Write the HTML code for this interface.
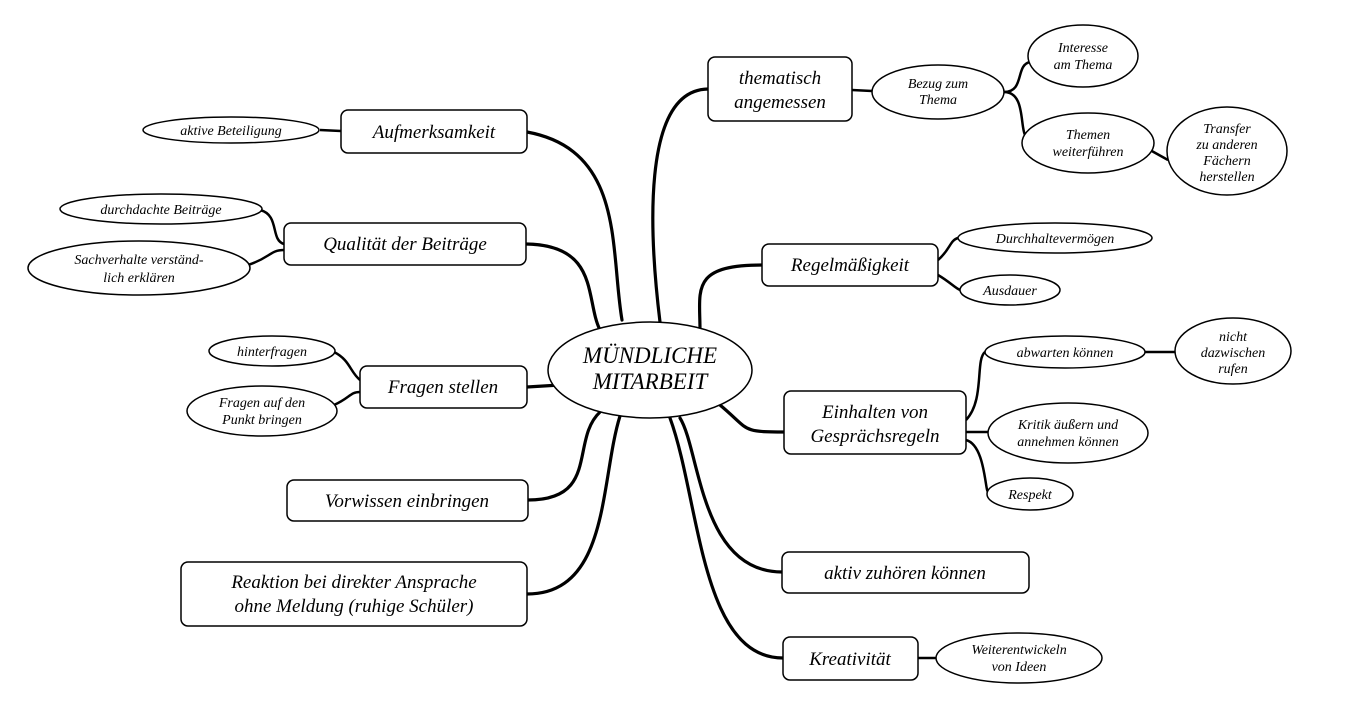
<!DOCTYPE html>
<html><head><meta charset="utf-8"><style>
html,body{margin:0;padding:0;background:#fff}
svg text{font-family:"Liberation Serif",serif;font-style:italic;fill:#000;text-anchor:middle}
.b{font-size:19px}.e{font-size:14px}
</style></head><body>
<svg width="1346" height="714" viewBox="0 0 1346 714" xmlns="http://www.w3.org/2000/svg">
<g fill="none" stroke="#000" stroke-width="3.2" stroke-linecap="round">
<!-- central to boxes -->
<path d="M622 320 C610 250 625 150 527 132"/>
<path d="M600 330 C585 300 600 245 526 244"/>
<path d="M560 385 L527 387"/>
<path d="M600 412 C570 440 600 500 528 500"/>
<path d="M620 416 C600 480 610 594 527 594"/>
<path d="M660 322 C650 240 640 90 708 89"/>
<path d="M700 330 C700 290 690 265 762 265"/>
<path d="M720 405 C750 430 740 432 784 432"/>
<path d="M680 418 C700 450 700 572 782 572"/>
<path d="M670 418 C700 500 700 658 783 658"/>
</g>
<g fill="none" stroke="#000" stroke-width="2.5">
<path d="M320 130 L341 131"/>
<path d="M260 210 C280 215 270 240 284 244"/>
<path d="M248 265 C270 258 270 250 284 250"/>
<path d="M334 352 C350 360 350 372 360 380"/>
<path d="M334 405 C350 398 350 392 360 392"/>
<path d="M852 90 L872 91"/>
<path d="M1004 92 C1025 92 1015 65 1030 62"/>
<path d="M1004 92 C1025 92 1020 125 1025 135"/>
<path d="M1150 150 L1168 160"/>
<path d="M938 260 C950 250 950 240 958 238"/>
<path d="M938 275 C950 282 955 288 960 290"/>
<path d="M966 420 C985 400 975 360 985 352"/>
<path d="M1145 352 L1176 352"/>
<path d="M966 432 L988 432"/>
<path d="M966 440 C985 445 985 490 988 492"/>
<path d="M918 658 L936 658"/>
</g>
<g fill="#fff" stroke="#000" stroke-width="1.5">
<ellipse cx="650" cy="370" rx="102" ry="48"/>
<rect x="341" y="110" width="186" height="43" rx="7"/>
<rect x="284" y="223" width="242" height="42" rx="7"/>
<rect x="360" y="366" width="167" height="42" rx="7"/>
<rect x="287" y="480" width="241" height="41" rx="7"/>
<rect x="181" y="562" width="346" height="64" rx="7"/>
<rect x="708" y="57" width="144" height="64" rx="7"/>
<rect x="762" y="244" width="176" height="42" rx="7"/>
<rect x="784" y="391" width="182" height="63" rx="7"/>
<rect x="782" y="552" width="247" height="41" rx="7"/>
<rect x="783" y="637" width="135" height="43" rx="7"/>
<ellipse cx="231" cy="130" rx="88" ry="13"/>
<ellipse cx="161" cy="209" rx="101" ry="15"/>
<ellipse cx="139" cy="268" rx="111" ry="27"/>
<ellipse cx="272" cy="351" rx="63" ry="15"/>
<ellipse cx="262" cy="411" rx="75" ry="25"/>
<ellipse cx="938" cy="92" rx="66" ry="27"/>
<ellipse cx="1083" cy="56" rx="55" ry="31"/>
<ellipse cx="1088" cy="143" rx="66" ry="30"/>
<ellipse cx="1227" cy="151" rx="60" ry="44"/>
<ellipse cx="1055" cy="238" rx="97" ry="15"/>
<ellipse cx="1010" cy="290" rx="50" ry="15"/>
<ellipse cx="1065" cy="352" rx="80" ry="16"/>
<ellipse cx="1233" cy="351" rx="58" ry="33"/>
<ellipse cx="1068" cy="433" rx="80" ry="30"/>
<ellipse cx="1030" cy="494" rx="43" ry="16"/>
<ellipse cx="1019" cy="658" rx="83" ry="25"/>
</g>
<text x="650" y="363" font-size="23">MÜNDLICHE</text>
<text x="650" y="389" font-size="23">MITARBEIT</text>
<text class="b" x="434" y="138">Aufmerksamkeit</text>
<text class="b" x="405" y="250">Qualität der Beiträge</text>
<text class="b" x="443" y="393">Fragen stellen</text>
<text class="b" x="407" y="507">Vorwissen einbringen</text>
<text class="b" x="354" y="588">Reaktion bei direkter Ansprache</text>
<text class="b" x="354" y="612">ohne Meldung (ruhige Schüler)</text>
<text class="b" x="780" y="84">thematisch</text>
<text class="b" x="780" y="108">angemessen</text>
<text class="b" x="850" y="271">Regelmäßigkeit</text>
<text class="b" x="875" y="418">Einhalten von</text>
<text class="b" x="875" y="442">Gesprächsregeln</text>
<text class="b" x="905" y="579">aktiv zuhören können</text>
<text class="b" x="850" y="665">Kreativität</text>
<g class="e">
<text class="e" x="231" y="135">aktive Beteiligung</text>
<text class="e" x="161" y="214">durchdachte Beiträge</text>
<text class="e" x="139" y="264">Sachverhalte verständ-</text>
<text class="e" x="139" y="282">lich erklären</text>
<text class="e" x="272" y="356">hinterfragen</text>
<text class="e" x="262" y="407">Fragen auf den</text>
<text class="e" x="262" y="424">Punkt bringen</text>
<text class="e" x="938" y="88">Bezug zum</text>
<text class="e" x="938" y="104">Thema</text>
<text class="e" x="1083" y="52">Interesse</text>
<text class="e" x="1083" y="69">am Thema</text>
<text class="e" x="1088" y="139">Themen</text>
<text class="e" x="1088" y="156">weiterführen</text>
<text class="e" x="1227" y="133" font-size="13">Transfer</text>
<text class="e" x="1227" y="149" font-size="13">zu anderen</text>
<text class="e" x="1227" y="165" font-size="13">Fächern</text>
<text class="e" x="1227" y="181" font-size="13">herstellen</text>
<text class="e" x="1055" y="243">Durchhaltevermögen</text>
<text class="e" x="1010" y="295">Ausdauer</text>
<text class="e" x="1065" y="357">abwarten können</text>
<text class="e" x="1233" y="341">nicht</text>
<text class="e" x="1233" y="357">dazwischen</text>
<text class="e" x="1233" y="373">rufen</text>
<text class="e" x="1068" y="429">Kritik äußern und</text>
<text class="e" x="1068" y="446">annehmen können</text>
<text class="e" x="1030" y="499">Respekt</text>
<text class="e" x="1019" y="654">Weiterentwickeln</text>
<text class="e" x="1019" y="671">von Ideen</text>
</g>
</svg>
</body></html>
